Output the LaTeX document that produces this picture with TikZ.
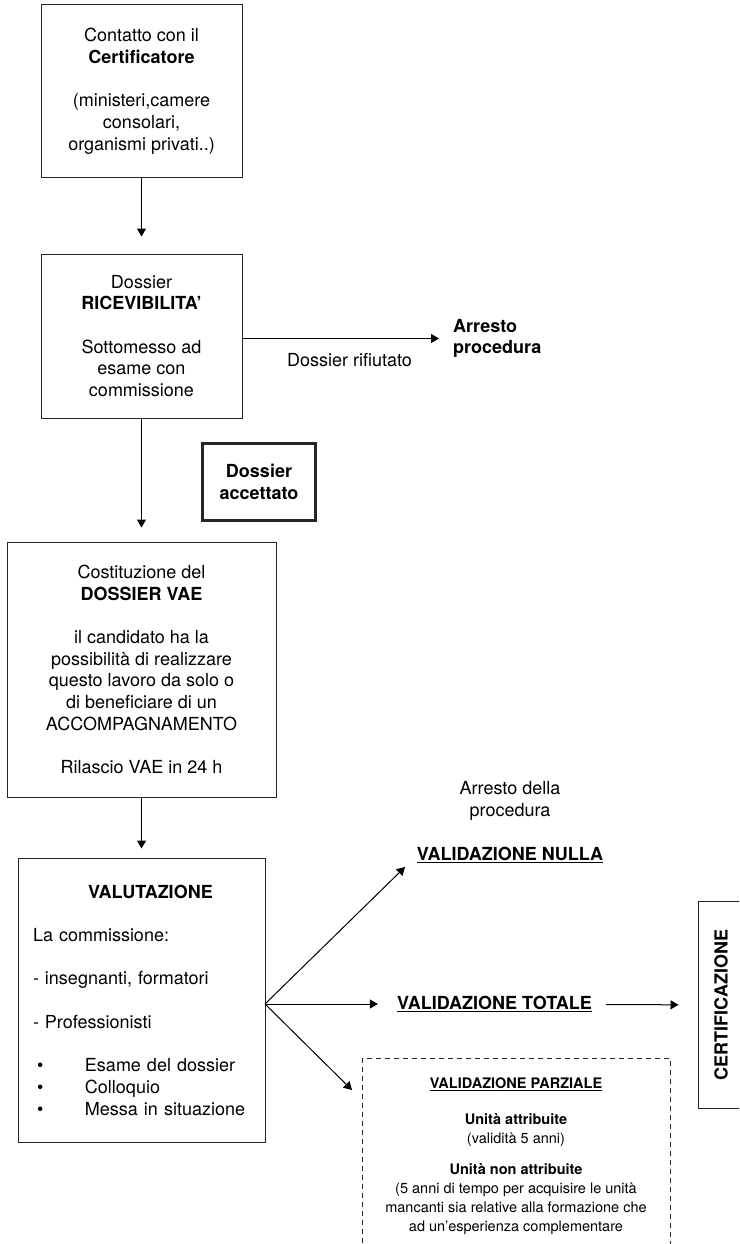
\documentclass[tikz,border=0pt]{standalone}
\usepackage{fontspec}
\setmainfont{TeX Gyre Heros}
\usetikzlibrary{arrows.meta}

\begin{document}
\begin{tikzpicture}[x=1pt, y=-1pt, >={Triangle[length=8pt,width=9pt]},
    every node/.style={font=\fontsize{18}{21.7}\selectfont},
    box/.style={draw=black!85, line width=1pt, align=center},
    lab/.style={inner sep=0pt, align=center},
    small/.style={font=\fontsize{14.5}{19}\selectfont},
    flow/.style={->, line width=1pt}]
    \clip (0,0) rectangle (739,1244);
    % Main column
    \node[box, minimum width=201, minimum height=172] (contatto) at (141.5,91)
        {Contatto con il\\ \textbf{Certificatore}\\[21.7pt] (ministeri,camere\\ consolari,\\ organismi privati..)};
    \node[box, minimum width=201, minimum height=164] (ricev) at (141.5,336)
        {Dossier\\ \textbf{RICEVIBILITA'}\\[21.7pt] Sottomesso ad\\ esame con\\ commissione};
    \node[box, minimum width=269, minimum height=255] (costit) at (141.5,669.5)
        {Costituzione del\\ \textbf{DOSSIER VAE}\\[21.7pt] il candidato ha la\\ possibilità di realizzare\\
         questo lavoro da solo o\\ di beneficiare di un\\ ACCOMPAGNAMENTO\\[21.7pt] Rilascio VAE in 24 h};
    \node[box, align=left, text width=217pt, inner xsep=15pt, minimum height=284] (valut) at (141.5,1000)
        {\hspace*{55pt}\textbf{VALUTAZIONE}\\[21.7pt] La commissione:\\[21.7pt] - insegnanti, formatori\\[21.7pt]
         - Professionisti\\[21.7pt]
         \makebox[52pt][l]{\hspace*{4pt}\textbullet}Esame del dossier\\
         \makebox[52pt][l]{\hspace*{4pt}\textbullet}Colloquio\\
         \makebox[52pt][l]{\hspace*{4pt}\textbullet}Messa in situazione};
    \draw[flow, shorten >=17pt] (contatto) -- (ricev);
    \draw[flow, shorten >=14pt] (ricev) -- (costit);
    \draw[flow, shorten >=9pt] (costit) -- (valut);
    % Dossier accettato / rifiutato
    \node[box, line width=3pt, minimum width=113, minimum height=77] (accett) at (259,482)
        {\textbf{Dossier}\\ \textbf{accettato}};
    \node[lab, anchor=west, align=left] (arresto) at (453,338.5) {\textbf{Arresto}\\ \textbf{procedura}};
    \node[lab] (rifiut) at (349.5,360) {Dossier rifiutato};
    \draw[flow, shorten >=14pt] (ricev.east |- arresto.west) -- (arresto.west);
    % Esiti della valutazione
    \coordinate (fork) at (265,1004);
    \coordinate (nullatip) at (405,867);
    \coordinate (parztip) at (352,1090);
    \node[lab] (arrdella) at (510,801) {Arresto della\\ procedura};
    \node[lab] (vnulla) at (510,855) {\underline{\textbf{VALIDAZIONE NULLA}}};
    \node[lab] (vtot) at (494.5,1004) {\underline{\textbf{VALIDAZIONE TOTALE}}};
    \node[box, rotate=90, minimum width=207, minimum height=46] (certif) at (721,1005)
        {\textbf{CERTIFICAZIONE}};
    \node[box, small, dash pattern=on 5pt off 4pt, anchor=north,
          minimum width=308, inner ysep=19pt] (vparz) at (516,1058)
        {\underline{\textbf{VALIDAZIONE PARZIALE}}\\[17pt]
         \textbf{Unità attribuite}\\ (validità 5 anni)\\[12pt]
         \textbf{Unità non attribuite}\\ (5 anni di tempo per acquisire le unità\\
         mancanti sia relative alla formazione che\\ ad un’esperienza complementare};
    \draw[flow] (fork) -- (nullatip);
    \draw[flow, shorten >=19pt] (fork) -- (vtot);
    \draw[flow] (fork) -- (parztip);
    \draw[flow, shorten <=14pt, shorten >=19pt] (vtot) -- (certif);
\end{tikzpicture}
\end{document}
